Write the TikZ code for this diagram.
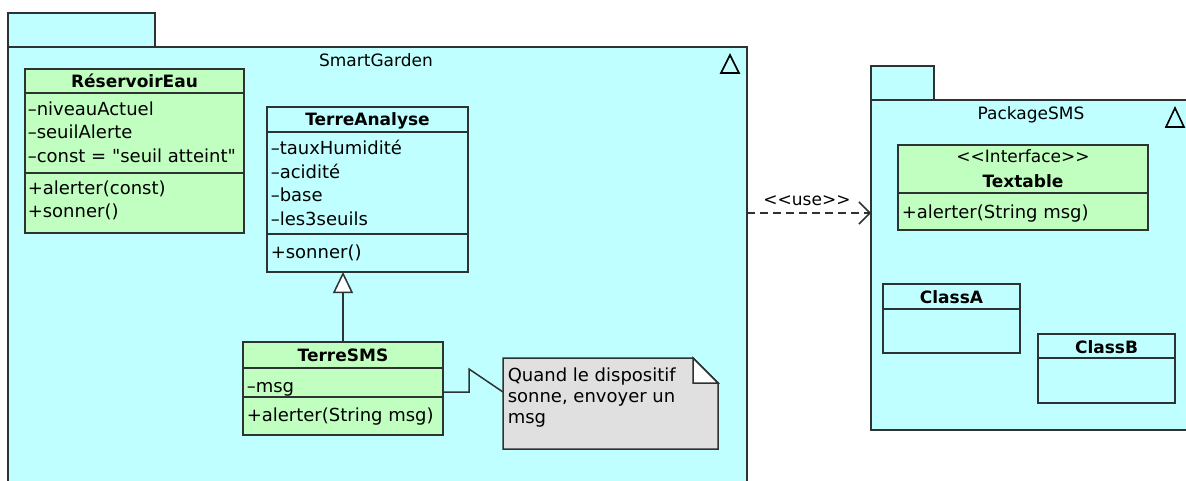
\documentclass[tikz,border=0pt]{standalone}
\usepackage{fontspec}
\newfontfamily\umlfont{DejaVu Sans}
\usetikzlibrary{arrows.meta, positioning, calc}
\definecolor{pkgcyan}{RGB}{191,255,255}
\definecolor{classgreen}{RGB}{193,255,193}
\definecolor{notegray}{RGB}{224,224,224}
\definecolor{umlline}{RGB}{45,50,50}

\begin{document}
\begin{tikzpicture}[x=1pt, y=-1pt, font=\umlfont, line width=1.5pt,
  pkg/.style={draw=umlline, fill=pkgcyan},
  pkgbody/.style={pkg, anchor=north west, inner sep=0, outer sep=0},
  pkglabel/.style={anchor=base, font=\umlfont\fontsize{17}{20}\selectfont},
  pkgmark/.style={draw=black, line width=1.6pt},
  classbox/.style={draw=umlline, anchor=north west, inner sep=0, outer sep=0},
  classtitle/.style={anchor=base, font=\umlfont\bfseries\fontsize{17}{20}\selectfont},
  members/.style={anchor=north west, inner sep=0, align=left, font=\umlfont\fontsize{18}{23.5}\selectfont, execute at begin node=\strut},
  notetext/.style={anchor=north west, inner sep=0, align=left, font=\umlfont\fontsize{18}{21}\selectfont, execute at begin node=\strut},
  sep/.style={draw=umlline},
  gen/.style={draw=umlline, -{Triangle[length=21pt, width=20pt, fill=white]}},
  use/.style={draw=umlline, dash pattern=on 8pt off 5pt, -{Straight Barb[length=11pt, width=22pt]}}]
  \useasboundingbox (0,0) rectangle (1186,480);
  \clip (0,0) rectangle (1186,480);

  \draw[pkg] (8,13) rectangle (155,47);
  \node[pkgbody, minimum width=739pt, minimum height=443pt] (smartgarden) at (8,47) {};
  \node[pkglabel] (smartgardenL) at (376,66) {SmartGarden};
  \draw[pkgmark] (721,73) -- (739,73) -- (730,55) -- cycle;

  \draw[pkg] (871,66) rectangle (934,100);
  \node[pkgbody, minimum width=323pt, minimum height=330pt] (packagesms) at (871,100) {};
  \node[pkglabel] (packagesmsL) at (1031,119) {PackageSMS};
  \draw[pkgmark] (1166,127) -- (1184,127) -- (1175,108) -- cycle;

  \node[classbox, fill=classgreen, minimum width=219pt, minimum height=164pt] (reservoir) at (25,69) {};
  \node[classtitle] (reservoirT) at ([yshift=-18.5pt]reservoir.north) {RéservoirEau};
  \draw[sep] ([yshift=-24pt]reservoir.north west) -- ([yshift=-24pt]reservoir.north east);
  \draw[sep] ([yshift=-104pt]reservoir.north west) -- ([yshift=-104pt]reservoir.north east);
  \node[members] (reservoirA) at ([xshift=2pt, yshift=-32pt]reservoir.north west) {–niveauActuel\\–seuilAlerte\\–const = "seuil atteint"};
  \node[members] (reservoirO) at ([xshift=2pt, yshift=-111pt]reservoir.north west) {+alerter(const)\\+sonner()};

  \node[classbox, minimum width=201pt, minimum height=165pt] (terreanalyse) at (267,107) {};
  \node[classtitle] (terreanalyseT) at ([yshift=-18.5pt]terreanalyse.north) {TerreAnalyse};
  \draw[sep] ([yshift=-25pt]terreanalyse.north west) -- ([yshift=-25pt]terreanalyse.north east);
  \draw[sep] ([yshift=-127pt]terreanalyse.north west) -- ([yshift=-127pt]terreanalyse.north east);
  \node[members] (terreanalyseA) at ([xshift=3pt, yshift=-32.5pt]terreanalyse.north west) {–tauxHumidité\\–acidité\\–base\\–les3seuils};
  \node[members] (terreanalyseO) at ([xshift=3pt, yshift=-134pt]terreanalyse.north west) {+sonner()};

  \node[classbox, fill=classgreen, minimum width=200pt, minimum height=93pt] (terresms) at (243,342) {};
  \node[classtitle] (terresmsT) at ([yshift=-19pt]terresms.north) {TerreSMS};
  \draw[sep] ([yshift=-26pt]terresms.north west) -- ([yshift=-26pt]terresms.north east);
  \draw[sep] ([yshift=-55pt]terresms.north west) -- ([yshift=-55pt]terresms.north east);
  \node[members] (terresmsA) at ([xshift=3pt, yshift=-33pt]terresms.north west) {–msg};
  \node[members] (terresmsO) at ([xshift=3pt, yshift=-62pt]terresms.north west) {+alerter(String msg)};

  \node[anchor=north west, inner sep=0, outer sep=0, minimum width=215pt, minimum height=91pt] (note) at (503,358) {};
  \draw[draw=umlline, fill=notegray] (note.north west) -- ([xshift=-25pt]note.north east) -- ([yshift=-25pt]note.north east) -- (note.south east) -- (note.south west) -- cycle;
  \draw[draw=umlline, fill=white] ([xshift=-25pt]note.north east) -- ([xshift=-25pt, yshift=-25pt]note.north east) -- ([yshift=-25pt]note.north east) -- cycle;
  \node[notetext] (noteT) at ([xshift=4pt, yshift=-9.5pt]note.north west) {Quand le dispositif\\sonne, envoyer un\\msg};

  \node[classbox, fill=classgreen, minimum width=250pt, minimum height=85pt] (textable) at (898,145) {};
  \node[pkglabel] (textableS) at ([yshift=-17.5pt]textable.north) {<<Interface>>};
  \node[classtitle] (textableT) at ([yshift=-42pt]textable.north) {Textable};
  \draw[sep] ([yshift=-48pt]textable.north west) -- ([yshift=-48pt]textable.north east);
  \node[members] (textableO) at ([xshift=3pt, yshift=-56pt]textable.north west) {+alerter(String msg)};

  \node[classbox, minimum width=137pt, minimum height=69pt] (classa) at (883,284) {};
  \node[classtitle] (classaT) at ([yshift=-19pt]classa.north) {ClassA};
  \draw[sep] ([yshift=-25pt]classa.north west) -- ([yshift=-25pt]classa.north east);

  \node[classbox, minimum width=137pt, minimum height=69pt] (classb) at (1038,334) {};
  \node[classtitle] (classbT) at ([yshift=-19pt]classb.north) {ClassB};
  \draw[sep] ([yshift=-24pt]classb.north west) -- ([yshift=-24pt]classb.north east);

  \coordinate (linky) at (0,392);
  \coordinate (usey) at (0,213);
  \draw[gen] (terresms.north) -- (terresms.north |- terreanalyse.south);
  \draw[sep] (terresms.east |- linky) -- ++(26,0) -- ++(0,-23) -- (note.west |- linky);
  \draw[use] (smartgarden.east |- usey) -- (packagesms.west |- usey);
  \node[pkglabel] (useL) at (807,205) {<<use>>};
\end{tikzpicture}
\end{document}
